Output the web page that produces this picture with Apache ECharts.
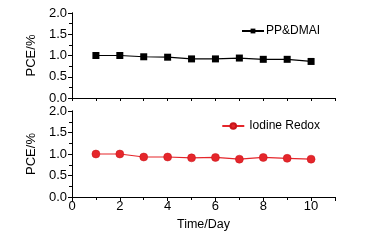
<!DOCTYPE html>
<html>
<head>
<meta charset="utf-8">
<script src="https://cdn.jsdelivr.net/npm/echarts@6/dist/echarts.min.js"></script>
<style>
html, body { margin: 0; padding: 0; background: #fff; }
#chart { width: 370px; height: 240px; }
</style>
</head>
<body>
<div id="chart"></div>
<script>
var days = [1, 2, 3, 4, 5, 6, 7, 8, 9, 10];
var ppDmai = [1.00, 1.00, 0.97, 0.96, 0.92, 0.92, 0.94, 0.91, 0.91, 0.86];
var iodineRedox = [1.00, 1.00, 0.93, 0.93, 0.91, 0.92, 0.88, 0.92, 0.90, 0.88];

var font = 'Liberation Sans, Arial, sans-serif';
var chart = echarts.init(document.getElementById('chart'));

function pairs(ys) {
	return days.map(function (d, i) { return [d, ys[i]]; });
}

function xBottom(gridIndex, showLabels) {
	return {
		type: 'value', gridIndex: gridIndex, position: 'bottom',
		min: 0, max: 11, interval: 2,
		name: showLabels ? 'Time/Day' : '', nameLocation: 'middle', nameGap: 21,
		nameTextStyle: { fontFamily: font, fontSize: 12.5, color: '#000' },
		axisLine: { lineStyle: { color: '#000', width: 1 } },
		axisTick: { show: showLabels, inside: false, length: 4, lineStyle: { color: '#000' } },
		minorTick: { show: showLabels, splitNumber: 2, length: 3, lineStyle: { color: '#000' } },
		axisLabel: { show: showLabels, showMaxLabel: false, fontFamily: font, fontSize: 13, color: '#000', margin: 3 },
		splitLine: { show: false }
	};
}
function xTop(gridIndex) {
	return {
		type: 'value', gridIndex: gridIndex, position: 'top',
		min: 0, max: 11, interval: 1,
		axisLine: { lineStyle: { color: '#000', width: 1 } },
		axisTick: { inside: true, length: 3, lineStyle: { color: '#000' } },
		axisLabel: { show: false },
		splitLine: { show: false }
	};
}
function yLeft(gridIndex) {
	return {
		type: 'value', gridIndex: gridIndex, position: 'left',
		min: 0, max: 2, interval: 0.5,
		name: 'PCE/%', nameLocation: 'middle', nameGap: 22,
		nameTextStyle: { fontFamily: font, fontSize: 13, color: '#000' },
		axisLine: { show: true, lineStyle: { color: '#000', width: 1 } },
		axisTick: { show: true, inside: false, length: 4, lineStyle: { color: '#000' } },
		minorTick: { show: true, splitNumber: 2, length: 3, lineStyle: { color: '#000' } },
		axisLabel: {
			fontFamily: font, fontSize: 13, color: '#000', margin: 5,
			formatter: function (v) { return v.toFixed(1); }
		},
		splitLine: { show: false }
	};
}
function yRight(gridIndex) {
	return {
		type: 'value', gridIndex: gridIndex, position: 'right',
		min: 0, max: 2, interval: 0.25,
		axisLine: { show: true, lineStyle: { color: '#000', width: 1 } },
		axisTick: { show: true, inside: true, length: 3, lineStyle: { color: '#000' } },
		axisLabel: { show: false },
		splitLine: { show: false }
	};
}

var option = {
	animation: false,
	backgroundColor: '#fff',
	grid: [
		{ left: 72, top: 13, width: 263, height: 85 },
		{ left: 72, top: 111, width: 263, height: 86 }
	],
	legend: [
		{
			data: ['PP&DMAI'], right: 45, top: 20, itemWidth: 22, itemHeight: 6, itemGap: 2,
			textStyle: { fontFamily: font, fontSize: 12, color: '#000', padding: [0, 0, 0, -3] }
		},
		{
			data: ['Iodine Redox'], right: 45, top: 115, itemWidth: 22, itemHeight: 7, itemGap: 2,
			textStyle: { fontFamily: font, fontSize: 12, color: '#000' }
		}
	],
	xAxis: [xBottom(0, false), xTop(0), xBottom(1, true), xTop(1)],
	yAxis: [yLeft(0), yRight(0), yLeft(1), yRight(1)],
	series: [
		{
			name: 'PP&DMAI', type: 'line', xAxisIndex: 0, yAxisIndex: 0,
			data: pairs(ppDmai),
			symbol: 'rect', symbolSize: 7,
			lineStyle: { color: '#000', width: 1.2 },
			itemStyle: { color: '#000' }
		},
		{
			name: 'Iodine Redox', type: 'line', xAxisIndex: 2, yAxisIndex: 2,
			data: pairs(iodineRedox),
			symbol: 'circle', symbolSize: 8,
			lineStyle: { color: '#e5262b', width: 1.2 },
			itemStyle: { color: '#e5262b', borderColor: '#c8151b', borderWidth: 0.5 }
		}
	]
};
chart.setOption(option);
</script>
</body>
</html>
